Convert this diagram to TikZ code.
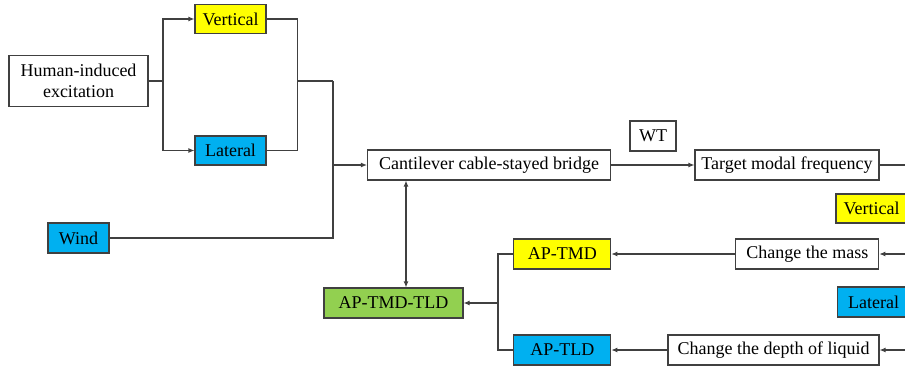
\documentclass[tikz,border=0pt]{standalone}
\usepackage{fontspec}
\setmainfont{Liberation Serif}
\usetikzlibrary{arrows.meta}
\definecolor{cyel}{HTML}{FFFF00}
\definecolor{cblu}{HTML}{00B0F0}
\definecolor{cgrn}{HTML}{92D050}
\definecolor{cln}{HTML}{404040}
\begin{document}
\begin{tikzpicture}[x=1pt,y=-1pt,
  box/.style={draw=cln, line width=1.1pt, inner sep=0pt, align=center,
    font=\fontsize{18}{21}\selectfont},
  ln/.style={draw=cln, line width=1.1pt},
  arr/.style={ln, -{Latex[length=6pt,width=5pt]}},
  darr/.style={ln, {Latex[length=6pt,width=5pt]}-{Latex[length=6pt,width=5pt]}},
]
\useasboundingbox (0,0) rectangle (905,372);
\clip (0,0) rectangle (905,372);
\node[box, minimum width=139, minimum height=51] (hie) at (78.5,81) {Human-induced\\excitation};
\node[box, fill=cyel, minimum width=71, minimum height=29] (vt) at (230.5,19) {Vertical};
\node[box, fill=cblu, minimum width=71, minimum height=29] (lt) at (230.5,150.5) {Lateral};
\node[box, fill=cblu, minimum width=61, minimum height=30] (wind) at (78.5,238) {Wind};
\node[box, minimum width=243, minimum height=30] (cant) at (489,165) {Cantilever cable-stayed bridge};
\node[box, minimum width=46, minimum height=30] (wt) at (653,136) {WT};
\node[box, minimum width=184, minimum height=30] (tmf) at (787,165) {Target modal frequency};
\node[box, fill=cyel, minimum width=71, minimum height=29] (vr) at (871.5,208.5) {Vertical};
\node[box, minimum width=143, minimum height=30] (cm) at (807.3,254) {Change the mass};
\node[box, fill=cblu, minimum width=72, minimum height=30] (lr) at (873.5,302) {Lateral};
\node[box, minimum width=211, minimum height=30] (cd) at (773.5,350) {Change the depth of liquid};
\node[box, fill=cyel, minimum width=97, minimum height=30] (tmd) at (562.3,254) {AP-TMD};
\node[box, fill=cblu, minimum width=97, minimum height=30] (tld) at (562.3,350) {AP-TLD};
\node[box, fill=cgrn, minimum width=139, minimum height=30] (tt) at (393.5,303) {AP-TMD-TLD};

\coordinate (j1) at (163,81);
\coordinate (j2) at (297.7,81);
\coordinate (j3) at (333,81);
\coordinate (j5) at (498,303);
\coordinate (r1) at (912,165);
\coordinate (r2) at (912,254);
\coordinate (r3) at (912,350);

\draw[ln] (hie.east) -- (j1);
\draw[arr] (j1) |- (vt.west);
\draw[arr] (j1) |- (lt.west);
\draw[ln] (vt.east) -| (j2);
\draw[ln] (lt.east) -| (j2);
\draw[ln] (j2) -- (j3);
\draw[ln] (wind.east) -| (j3);
\draw[arr] (j3 |- cant.west) -- (cant.west);
\draw[arr] (cant.east) -- (tmf.west);
\draw[ln] (tmf.east) -- (r1);
\draw[arr] (r2) -- (cm.east);
\draw[arr] (r3) -- (cd.east);
\draw[arr] (cm.west) -- (tmd.east);
\draw[arr] (cd.west) -- (tld.east);
\draw[ln] (tmd.west) -| (j5);
\draw[ln] (tld.west) -| (j5);
\draw[arr] (j5) -- (tt.east);
\draw[darr] (cant.south -| 406,0) -- (tt.north -| 406,0);
\end{tikzpicture}
\end{document}
